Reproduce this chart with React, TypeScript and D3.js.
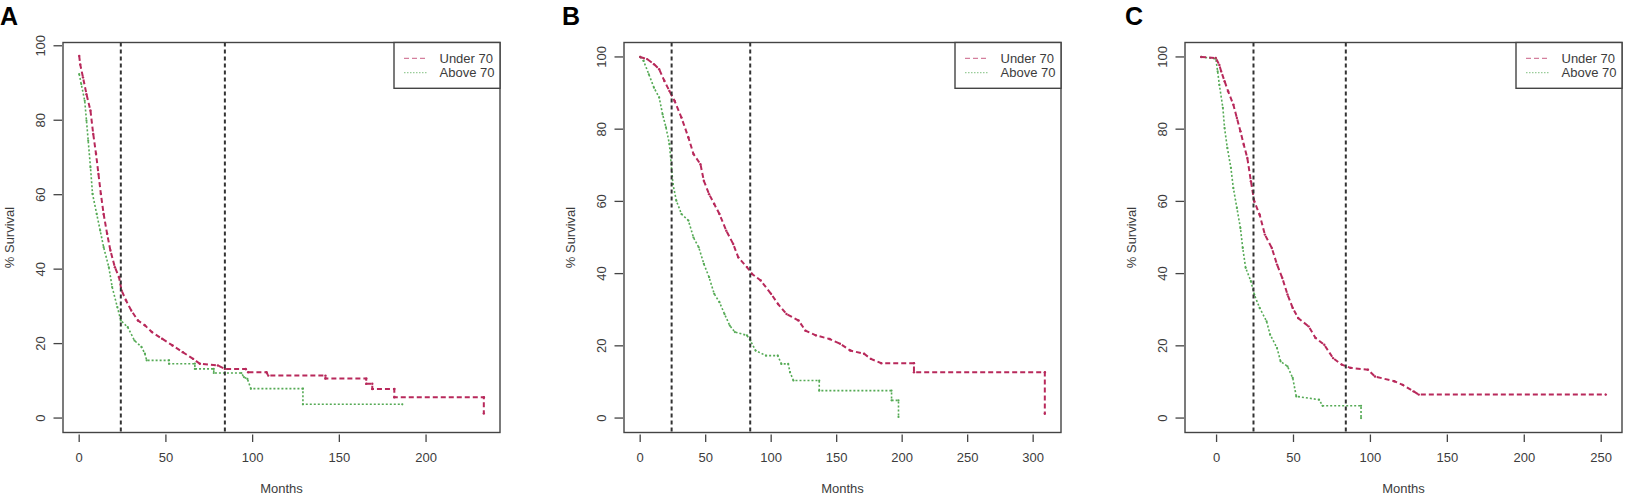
import * as d3 from "d3";

type Pt = [number, number];

const panelLetters = ["A", "B", "C"];
const seriesNames = ["Under 70", "Above 70"];
const cutoffMonths = [24, 84];
const yTicks = [0, 20, 40, 60, 80, 100];
const xTicksA = [0, 50, 100, 150, 200];
const xTicksB = [0, 50, 100, 150, 200, 250, 300];
const xTicksC = [0, 50, 100, 150, 200, 250];

// survival curves: [month, % survival]
const underA: Pt[] = [
  [0, 97.3], [0.6, 95], [2.2, 91.5], [4.2, 87], [6.5, 82.6], [8.1, 76.3], [9.7, 71],
  [11.1, 65.6], [12.5, 60.2], [14.1, 54.8], [16.1, 49.5], [18, 45], [20.6, 40.5],
  [23, 37.8], [24.4, 34.3], [27, 31.6], [30, 28.9], [33.9, 26.2], [37.9, 24.9],
  [41.9, 23.1], [47.8, 21.3], [53.8, 19.5], [59.7, 17.7], [65.7, 15.9], [69.6, 14.6],
  [80, 14.1], [84, 13.2], [96, 13.2], [97.4, 12.3], [108, 12.3], [109, 11.4],
  [142, 11.4], [142, 10.6], [165.5, 10.6], [165.5, 9.2], [169, 9.2], [169, 7.8],
  [181.7, 7.8], [181.7, 5.6], [233.3, 5.6], [233.3, 1.2],
];
const aboveA: Pt[] = [
  [0, 92.4], [1.2, 89.7], [3.2, 85.2], [4.2, 79.9], [5.2, 74.5], [6.5, 67.4], [7.7, 60.2],
  [10.1, 54.8], [12.1, 50.4], [14.1, 45.9], [17.1, 40.5], [19, 35.2], [22, 29.8],
  [24, 26.2], [28, 24.4], [31.9, 20.8], [35.9, 19.1], [37.9, 17.3], [38.9, 15.5],
  [51.8, 15.5], [51.8, 14.6], [66.7, 14.6], [66.7, 13.2], [77.6, 13.2], [77.6, 12.1],
  [93.5, 12.1], [95, 11], [97, 10.5], [99, 7.9], [129, 7.9], [129, 3.7], [186.3, 3.7],
];
const underB: Pt[] = [
  [0, 100], [5.3, 99.4], [10.5, 98], [14.5, 96.6], [18.4, 93.4], [22.3, 90.6], [26.3, 87.8],
  [31.5, 83.2], [36.8, 77.7], [40.7, 73.1], [46, 70.3], [48.6, 65.7], [52.6, 62],
  [56.5, 59.3], [60.5, 56.5], [65.7, 51.9], [71, 48.2], [74.9, 44.5], [81.5, 41.8],
  [85.4, 39.9], [92, 38.1], [99.9, 34.4], [105.2, 31.6], [111.7, 28.8], [120.9, 27],
  [126.2, 24.2], [134.1, 22.9], [144.6, 21.9], [152.5, 20.6], [160.4, 18.7],
  [170.9, 17.8], [176.1, 16.4], [184, 15.2], [209, 15.2], [209, 12.7], [308.9, 12.7],
  [308.9, 1.2],
];
const aboveB: Pt[] = [
  [0, 100], [2.6, 98.9], [6.6, 95.2], [10.5, 91.5], [14.5, 88.8], [17.1, 84.1], [19.7, 80.5],
  [22.3, 75.9], [25, 64.8], [27.6, 60.2], [31.5, 56.5], [36.8, 54.7], [40.7, 50],
  [44.7, 47.3], [48.6, 42.7], [52.6, 39], [56.5, 34.4], [60.5, 32.1], [64.4, 28.8],
  [68.4, 25.6], [72.3, 23.8], [81.5, 22.9], [84.1, 21.5], [88.1, 18.7], [96, 17.3],
  [105, 17.3], [107.8, 15], [113, 15], [114.4, 12.7], [117, 10.4], [136.7, 10.4],
  [136.7, 7.6], [191.9, 7.6], [191.9, 4.9], [197.2, 4.9], [197.2, 0.3],
];
const underC: Pt[] = [
  [-10, 100], [-0.5, 99.7], [1.8, 97.8], [3, 96], [5.2, 93.3], [7.5, 90.5], [10.9, 86.8],
  [13.2, 83.1], [15.5, 79.4], [17.7, 75.7], [20, 72], [22.3, 65.6], [24.5, 60],
  [28, 56.3], [31.4, 50.8], [35.9, 47.1], [39.3, 42.5], [42.7, 38.8], [46.1, 34.2],
  [49.5, 30.5], [53, 27.7], [59.8, 25.4], [64.3, 22.2], [70, 20.3], [75.7, 16.6],
  [81.4, 14.8], [87, 13.9], [98.4, 13.4], [103, 11.5], [115.5, 10.2], [121, 9.2],
  [128, 7.4], [131.4, 6.5], [253, 6.5],
];
const aboveC: Pt[] = [
  [-10, 100], [-0.5, 99.5], [0.7, 96], [1.8, 92.3], [4.1, 85.9], [5.2, 80.3], [7, 74.8],
  [9.3, 69.3], [10.9, 63.7], [13.2, 58.2], [15.5, 52.6], [17, 47.1], [18.9, 41.6],
  [22.3, 37.9], [24.5, 34.2], [28, 30.5], [32.5, 26.8], [34.8, 23.1], [39.3, 19.4],
  [41.6, 15.7], [46.1, 14.3], [49.5, 11.1], [51.8, 6], [66.6, 5.1], [68.9, 3.4],
  [93.9, 3.4], [93.9, 0],
];

const W = 1630;
const H = 501;
const TOP = 42.5;
const BOTTOM = 432.5;
const BOX_W = 437;
const boxLefts = [63, 624, 1185];
const letterX = [0, 562, 1125];
const RED = "#b8295b";
const GREEN = "#55aa55";
const FONT = "'Liberation Sans', Arial, sans-serif";
const TXT = "#3c3c3c";

// R-style axis padding (4% each side)
const pad = (lo: number, hi: number): [number, number] => {
  const r = hi - lo;
  return [lo - 0.04 * r, hi + 0.04 * r];
};

type PanelProps = {
  idx: number;
  under: Pt[];
  above: Pt[];
  xTicks: number[];
  yRange: [number, number];
};

const Panel = ({ idx, under, above, xTicks, yRange }: PanelProps) => {
  const left = boxLefts[idx];
  const right = left + BOX_W;
  const allX = [...under, ...above].map((d) => d[0]);
  const x = d3.scaleLinear().domain(pad(d3.min(allX)!, d3.max(allX)!)).range([left, right]);
  const y = d3.scaleLinear().domain(pad(yRange[0], yRange[1])).range([BOTTOM, TOP]);
  const line = d3.line<Pt>().x((d) => x(d[0])).y((d) => y(d[1]));
  const legL = right - 106;

  return (
    <g fontFamily={FONT}>
      <text x={letterX[idx]} y={25} fontSize={25} fontWeight="bold" fill="#000">
        {panelLetters[idx]}
      </text>

      {/* curves */}
      <path d={line(above)!} fill="none" stroke={GREEN} strokeWidth={1.6} strokeDasharray="2,2" />
      <path d={line(under)!} fill="none" stroke={RED} strokeWidth={2} strokeDasharray="5,3" />
      {above.map((d, i) => (
        <circle key={"a" + i} cx={x(d[0])} cy={y(d[1])} r={1.1} fill={GREEN} />
      ))}
      {under.map((d, i) => (
        <circle key={"u" + i} cx={x(d[0])} cy={y(d[1])} r={1.2} fill={RED} />
      ))}

      {/* cutoff lines */}
      {cutoffMonths.map((m) => (
        <line key={m} x1={x(m)} x2={x(m)} y1={TOP} y2={BOTTOM} stroke="#333" strokeWidth={2} strokeDasharray="4,3" />
      ))}

      {/* box */}
      <rect x={left} y={TOP} width={BOX_W} height={BOTTOM - TOP} fill="none" stroke="#444" strokeWidth={1.4} />

      {/* x axis */}
      {xTicks.map((t) => (
        <g key={t}>
          <line x1={x(t)} x2={x(t)} y1={BOTTOM + 2} y2={BOTTOM + 9.5} stroke="#444" strokeWidth={1.3} />
          <text x={x(t)} y={457} fontSize={13} fill={TXT} textAnchor="middle" dominantBaseline="central">
            {t}
          </text>
        </g>
      ))}
      <text x={(left + right) / 2} y={488} fontSize={13} fill={TXT} textAnchor="middle" dominantBaseline="central">
        Months
      </text>

      {/* y axis */}
      {yTicks.map((t) => (
        <g key={t}>
          <line x1={left - 9.5} x2={left - 1} y1={y(t)} y2={y(t)} stroke="#444" strokeWidth={1.3} />
          <text
            transform={`translate(${left - 22.5},${y(t)}) rotate(-90)`}
            fontSize={13}
            fill={TXT}
            textAnchor="middle"
            dominantBaseline="central"
          >
            {t}
          </text>
        </g>
      ))}
      <text
        transform={`translate(${left - 53.5},${(TOP + BOTTOM) / 2}) rotate(-90)`}
        fontSize={13}
        fill={TXT}
        textAnchor="middle"
        dominantBaseline="central"
      >
        % Survival
      </text>

      {/* legend */}
      <rect x={legL} y={TOP} width={106} height={45.8} fill="#fff" stroke="#444" strokeWidth={1.4} />
      {seriesNames.map((name, i) => (
        <g key={name}>
          <line
            x1={legL + 10}
            x2={legL + 33.5}
            y1={TOP + 15.8 + i * 14.4}
            y2={TOP + 15.8 + i * 14.4}
            stroke={i === 0 ? RED : GREEN}
            strokeOpacity={0.6}
            strokeWidth={1.2}
            strokeDasharray={i === 0 ? "5,3" : "1.5,1.5"}
          />
          <text x={legL + 45.5} y={TOP + 15.8 + i * 14.4} fontSize={13} fill={TXT} dominantBaseline="central">
            {name}
          </text>
        </g>
      ))}
    </g>
  );
};

export default function App() {
  return (
    <svg
      width={W}
      height={H}
      style={{ position: "absolute", left: 0, top: 0, background: "#fff" }}
    >
      <Panel idx={0} under={underA} above={aboveA} xTicks={xTicksA} yRange={[0, 97]} />
      <Panel idx={1} under={underB} above={aboveB} xTicks={xTicksB} yRange={[0, 100]} />
      <Panel idx={2} under={underC} above={aboveC} xTicks={xTicksC} yRange={[0, 100]} />
    </svg>
  );
}
